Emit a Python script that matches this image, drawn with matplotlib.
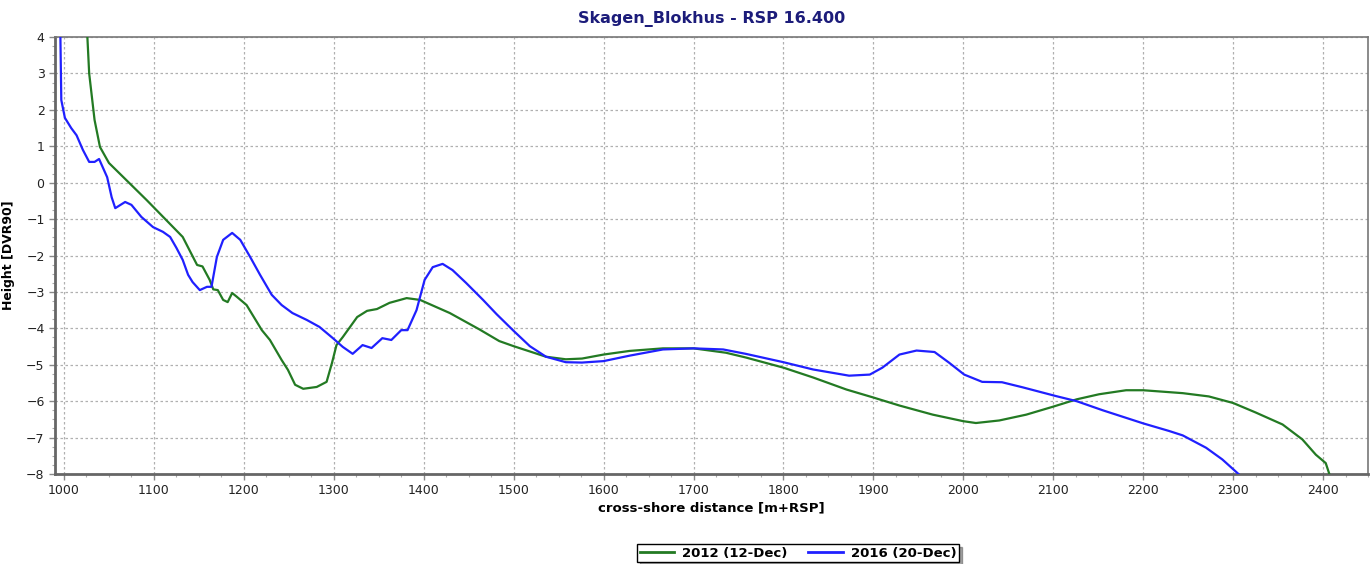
import matplotlib
matplotlib.use("Agg")
import matplotlib.pyplot as plt
from matplotlib.ticker import MultipleLocator
from matplotlib.lines import Line2D

x_2012 = [1026, 1028, 1034, 1040, 1050, 1092, 1132, 1148, 1154, 1162, 1166, 1171, 1177, 1182,
          1187, 1192, 1203, 1220, 1229, 1242, 1249, 1257, 1266, 1281, 1292, 1298, 1303, 1310,
          1326, 1337, 1348, 1362, 1381, 1396, 1429, 1462, 1484, 1500, 1536, 1558, 1576, 1600,
          1629, 1666, 1700, 1736, 1758, 1800, 1833, 1870, 1900, 1929, 1966, 2000, 2014, 2040,
          2070, 2100, 2126, 2151, 2181, 2200, 2244, 2273, 2300, 2325, 2355, 2377, 2392, 2403, 2407]
y_2012 = [4, 3, 1.72, 0.98, 0.54, -0.48, -1.49, -2.26, -2.3, -2.67, -2.93, -2.95, -3.22, -3.28,
          -3.03, -3.13, -3.36, -4.05, -4.32, -4.87, -5.14, -5.55, -5.66, -5.61, -5.47, -4.95, -4.46, -4.24,
          -3.69, -3.52, -3.47, -3.3, -3.17, -3.22, -3.58, -4.03, -4.35, -4.49, -4.78, -4.85, -4.83, -4.72,
          -4.62, -4.55, -4.55, -4.67, -4.8, -5.08, -5.35, -5.68, -5.9, -6.12, -6.37, -6.55, -6.6, -6.53,
          -6.37, -6.15, -5.95, -5.81, -5.7, -5.7, -5.78, -5.87, -6.05, -6.31, -6.64, -7.05, -7.47, -7.7, -8]

x_2016 = [996, 997, 1001, 1008, 1014, 1021, 1028, 1034, 1039, 1048, 1053, 1057, 1068, 1075, 1086,
          1099, 1110, 1118, 1125, 1132, 1138, 1143, 1151, 1159, 1164, 1170, 1177, 1187, 1196, 1207,
          1218, 1231, 1242, 1254, 1270, 1284, 1299, 1310, 1321, 1332, 1342, 1354, 1364, 1375, 1382,
          1392, 1401, 1410, 1421, 1432, 1447, 1466, 1481, 1500, 1518, 1536, 1558, 1576, 1600, 1629,
          1666, 1700, 1733, 1758, 1800, 1833, 1873, 1896, 1910, 1929, 1948, 1968, 1984, 2001, 2021,
          2043, 2066, 2103, 2126, 2155, 2200, 2229, 2244, 2270, 2288, 2306]
y_2016 = [4, 2.27, 1.78, 1.5, 1.3, 0.9, 0.57, 0.57, 0.65, 0.15, -0.4, -0.7, -0.53, -0.61, -0.94,
          -1.22, -1.35, -1.49, -1.79, -2.12, -2.53, -2.73, -2.95, -2.86, -2.86, -2.04, -1.57, -1.38, -1.57, -2.04,
          -2.53, -3.08, -3.36, -3.58, -3.77, -3.96, -4.27, -4.51, -4.7, -4.46, -4.54, -4.27, -4.32, -4.05, -4.05,
          -3.5, -2.67, -2.32, -2.23, -2.4, -2.75, -3.22, -3.61, -4.07, -4.49, -4.78, -4.93, -4.94, -4.9, -4.75,
          -4.58, -4.55, -4.58, -4.7, -4.93, -5.13, -5.3, -5.27, -5.08, -4.72, -4.61, -4.65, -4.94, -5.27, -5.47,
          -5.48, -5.62, -5.86, -6.0, -6.25, -6.61, -6.82, -6.94, -7.28, -7.6, -8]

series_labels = ["2012 (12-Dec)", "2016 (20-Dec)"]
title = "Skagen_Blokhus - RSP 16.400"

W, H = 1372, 564
fig = plt.figure(figsize=(W / 100, H / 100), dpi=100)
ax = fig.add_axes([55 / W, 1 - 474 / H, (1368 - 55) / W, (474 - 37) / H])

c_green = "#237a23"
c_blue = "#2020ff"
ax.plot(x_2012, y_2012, color=c_green, lw=1.6, label=series_labels[0], zorder=3)
ax.plot(x_2016, y_2016, color=c_blue, lw=1.6, label=series_labels[1], zorder=3)

ax.set_xlim(990, 2450)
ax.set_ylim(-8, 4)
ax.xaxis.set_major_locator(MultipleLocator(100))
ax.xaxis.set_minor_locator(MultipleLocator(25))
ax.yaxis.set_major_locator(MultipleLocator(1))
ax.yaxis.set_minor_locator(MultipleLocator(0.25))
ax.grid(True, which="major", color="#b0b0b0", linestyle=(0, (2, 2)), linewidth=0.9)
ax.tick_params(which="major", direction="out", length=4, width=1, color="#888888",
               labelsize=9, labelcolor="#222222")
ax.tick_params(which="minor", direction="out", length=2, width=0.8, color="#aaaaaa")
for s in ["left", "bottom"]:
    ax.spines[s].set_color("#666666")
    ax.spines[s].set_linewidth(2)
for s in ["top", "right"]:
    ax.spines[s].set_color("#777777")
    ax.spines[s].set_linewidth(1.2)

ax.set_title(title, fontsize=11.5, fontweight="bold", color="#1c1c7a", pad=10)
ax.set_xlabel("cross-shore distance [m+RSP]", fontsize=9.5, fontweight="bold", labelpad=3)
ax.set_ylabel("Height [DVR90]", fontsize=9, fontweight="bold")
ax.yaxis.set_label_coords(-(55 - 15) / (1368 - 55), 0.5)

handles = [Line2D([], [], color=c_green, lw=2), Line2D([], [], color=c_blue, lw=2)]
leg = fig.legend(handles, series_labels, loc="center", bbox_to_anchor=(798 / W, 1 - 553 / H),
                 ncol=2, frameon=True, fancybox=False, shadow=True,
                 prop={"weight": "bold", "size": 9.5}, handlelength=2.6, columnspacing=1.6,
                 borderpad=0.2, handletextpad=0.6, borderaxespad=0)
leg.get_frame().set_edgecolor("black")
leg.get_frame().set_linewidth(1)

fig.savefig("out.png", dpi=100)
